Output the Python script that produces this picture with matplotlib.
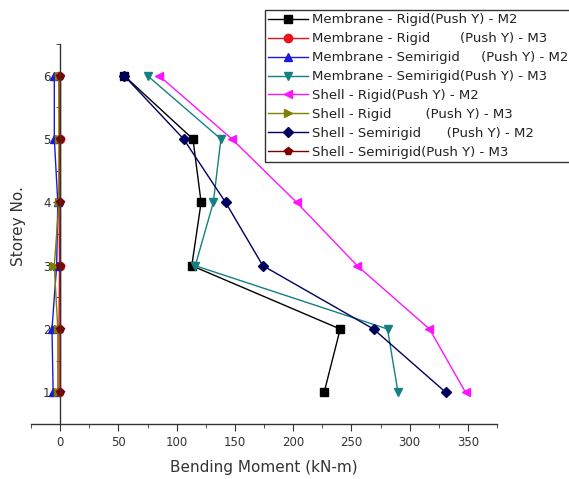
import numpy as np
import matplotlib.pyplot as plt
from matplotlib.ticker import MultipleLocator

plt.rcParams['font.family'] = ['DejaVu Sans']

storeys = [1, 2, 3, 4, 5, 6]

labels = [
    'Membrane - Rigid(Push Y) - M2',
    'Membrane - Rigid       (Push Y) - M3',
    'Membrane - Semirigid     (Push Y) - M2',
    'Membrane - Semirigid(Push Y) - M3',
    'Shell - Rigid(Push Y) - M2',
    'Shell - Rigid        (Push Y) - M3',
    'Shell - Semirigid      (Push Y) - M2',
    'Shell - Semirigid(Push Y) - M3',
]

mem_rigid_m2 = [226.6, 240.4, 113, 121, 114, 55]
mem_rigid_m3 = [-1.0, -1.0, -0.5, -1.0, -0.5, -1.0]
mem_semi_m2 = [-6, -7, -3, -2, -5, -5]
mem_semi_m3 = [290, 281, 116, 131.5, 138, 75]
shell_rigid_m2 = [348, 317, 255, 203, 147.5, 85]
shell_rigid_m3 = [-2, -2, -5, -1, -1, -1]
shell_semi_m2 = [331, 269, 174, 142, 106, 55]
shell_semi_m3 = [-0.5, -0.5, -0.5, -0.5, -0.5, -0.5]

series = [mem_rigid_m2, mem_rigid_m3, mem_semi_m2, mem_semi_m3,
          shell_rigid_m2, shell_rigid_m3, shell_semi_m2, shell_semi_m3]
colors = ['#000000', '#e8141c', '#1a1ad6', '#148080',
          '#ff14ff', '#808000', '#00005e', '#800000']
markers = ['s', 'o', '^', 'v', '<', '>', 'D', 'p']

fig = plt.figure(figsize=(5.69, 4.79), dpi=100)
ax = fig.add_axes([0.0545, 0.1148, 0.819, 0.7932])

for vals, lab, c, m in zip(series, labels, colors, markers):
    ms = 5 if m == 'D' else 6
    ax.plot(vals, storeys, color=c, marker=m, markersize=ms, lw=1.0, label=lab)

ax.set_xlim(-25, 375)
ax.set_ylim(0.5, 6.5)
ax.xaxis.set_major_locator(MultipleLocator(50))
ax.xaxis.set_minor_locator(MultipleLocator(25))
ax.yaxis.set_major_locator(MultipleLocator(1))
ax.yaxis.set_minor_locator(MultipleLocator(0.5))

ax.spines['top'].set_visible(False)
ax.spines['right'].set_visible(False)
ax.spines['left'].set_position(('data', 0))
for s in ['left', 'bottom']:
    ax.spines[s].set_color('#333333')
    ax.spines[s].set_linewidth(1.0)

ax.tick_params(which='both', direction='out', colors='#333333', labelsize=8.5,
               labelcolor='#333333')
ax.tick_params(which='major', length=5)
ax.tick_params(which='minor', length=3)
ax.tick_params(axis='y', pad=2)

ax.set_xlabel('Bending Moment (kN-m)', fontsize=11, color='#333333')
ax.set_ylabel('Storey No.', fontsize=11, color='#333333')
ax.yaxis.set_label_coords(-0.01, 0.52)
ax.xaxis.set_label_coords(0.5, -0.095)

leg = ax.legend(loc='upper left', bbox_to_anchor=(0.502, 1.0895), fontsize=9.5,
                frameon=True, fancybox=False, edgecolor='black',
                borderpad=0.25, labelspacing=0.45, handlelength=3.0,
                handletextpad=0.3, borderaxespad=0)
leg.get_frame().set_linewidth(1.0)
for t in leg.get_texts():
    t.set_color('#222222')

fig.savefig('out.png', dpi=100)
